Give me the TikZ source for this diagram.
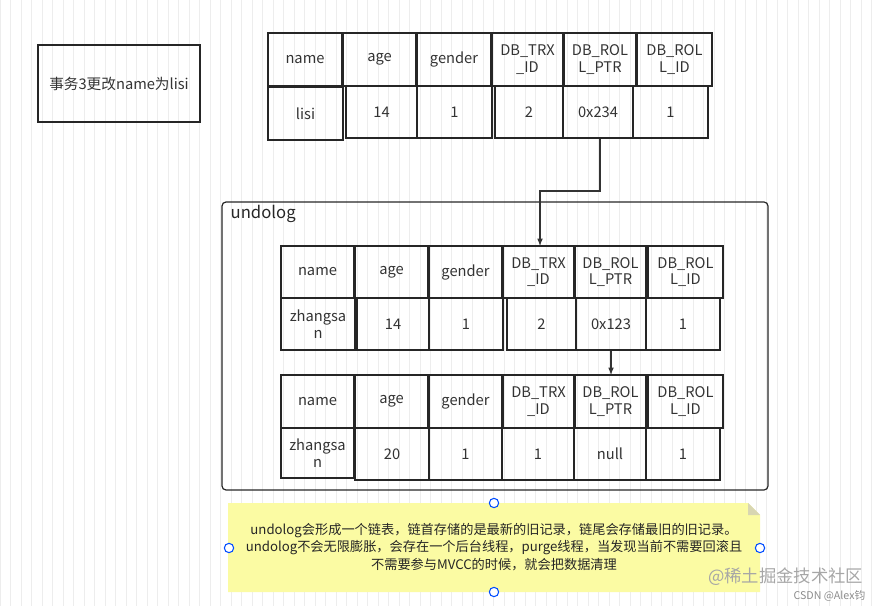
\documentclass[tikz,border=0pt]{standalone}
\usepackage{fontspec}
\newfontfamily\cjk{Noto Sans CJK SC}
\begin{document}
\begin{tikzpicture}[x=0.75pt,y=-0.75pt,
  cell/.style={draw=black!85,line width=0.9pt,font=\cjk\fontsize{11}{12.5}\selectfont,align=center,text=black!80},
  handle/.style={circle,draw=blue!70!cyan,fill=white,line width=0.8pt,inner sep=0pt,minimum size=7pt},
  link/.style={draw=black!80,line width=0.9pt,-latex}]
\useasboundingbox (0,0) rectangle (882,606);
\draw[black!7,step=10.5] (0,0) grid (882,606);
\newcommand\cellbox[6]{\node[cell,minimum width={(#3-#2)*0.75pt},minimum height={(#5-#4)*0.75pt},inner sep=0pt] (#1) at ({(#2+#3)/2},{(#4+#5)/2}) {#6};}
% left box
\cellbox{task}{38}{200}{45}{122}{事务3更改name为lisi}
% top table
\cellbox{h1}{268}{342}{33}{86}{name}
\cellbox{h2}{343}{416}{33}{86}{age}
\cellbox{h3}{417}{491}{33}{86}{gender}
\cellbox{h4}{492}{563}{33}{86}{DB\_TRX\\\_ID}
\cellbox{h5}{564}{636}{33}{86}{DB\_ROL\\L\_PTR}
\cellbox{h6}{637}{712}{33}{86}{DB\_ROL\\L\_ID}
\cellbox{d1}{268}{343}{87}{140}{lisi}
\cellbox{d2}{346}{417}{86}{138}{14}
\cellbox{d3}{417}{492}{86}{138}{1}
\cellbox{d4}{495}{563}{86}{138}{2}
\cellbox{d5}{563}{633}{86}{138}{0x234}
\cellbox{d6}{633}{708}{86}{138}{1}
% undolog container
\draw[black!85,line width=0.9pt,rounded corners=3pt] (222,202) rectangle (768,490);
\node[anchor=west,font=\cjk\fontsize{12.5}{14}\selectfont,text=black!85] (ul) at (226,214) {undolog};
% table 2
\cellbox{a1}{281}{354}{246}{298}{name}
\cellbox{a2}{355}{428}{246}{298}{age}
\cellbox{a3}{429}{502}{246}{298}{gender}
\cellbox{a4}{503}{574}{246}{298}{DB\_TRX\\\_ID}
\cellbox{a5}{575}{646}{246}{298}{DB\_ROL\\L\_PTR}
\cellbox{a6}{648}{723}{246}{298}{DB\_ROL\\L\_ID}
\cellbox{b1}{281}{355}{298}{350}{zhangsa\\n}
\cellbox{b2}{357}{429}{298}{350}{14}
\cellbox{b3}{429}{503}{298}{350}{1}
\cellbox{b4}{507}{576}{298}{350}{2}
\cellbox{b5}{576}{646}{298}{350}{0x123}
\cellbox{b6}{646}{720}{298}{350}{1}
% table 3
\cellbox{c1}{281}{354}{375}{428}{name}
\cellbox{c2}{355}{428}{375}{428}{age}
\cellbox{c3}{429}{502}{375}{428}{gender}
\cellbox{c4}{503}{574}{375}{428}{DB\_TRX\\\_ID}
\cellbox{c5}{575}{646}{375}{428}{DB\_ROL\\L\_PTR}
\cellbox{c6}{648}{723}{375}{428}{DB\_ROL\\L\_ID}
\cellbox{e1}{281}{354}{428}{478}{zhangsa\\n}
\cellbox{e2}{355}{429}{428}{480}{20}
\cellbox{e3}{429}{502}{428}{480}{1}
\cellbox{e4}{502}{574}{428}{480}{1}
\cellbox{e5}{574}{646}{428}{480}{null}
\cellbox{e6}{646}{720}{428}{480}{1}
% arrows
\coordinate (k) at (600,191);
\draw[link] (d5.south -| k) -- (k) -- (540,191) -- (540,246);
\draw[link] (b5.south -| 611,0) -- (611,375);
% note
\definecolor{notey}{HTML}{FBFBA3}
\fill[notey] (228,503) -- (748,503) -- (760,515) -- (760,592) -- (228,592) -- cycle;
\fill[yellow!50!black!35] (748,503) -- (760,515) -- (748,515) -- cycle;
\node[font=\cjk\fontsize{9.9}{13}\selectfont,align=center,text=black!85] (note) at (494,547) {undolog会形成一个链表，链首存储的是最新的旧记录，链尾会存储最旧的旧记录。\\undolog不会无限膨胀，会存在一个后台线程，purge线程，当发现当前不需要回滚且\\不需要参与MVCC的时候，就会把数据清理};
\node[handle] at (494,503) {};
\node[handle] at (229,548) {};
\node[handle] at (760,548) {};
\node[handle] at (494,592) {};
\node[font=\cjk\fontsize{13}{14}\selectfont,text=black!35,anchor=east] (wm) at (868,577) {@稀土掘金技术社区};
\node[font=\cjk\fontsize{8}{9}\selectfont,text=black!45,anchor=east] (wm2) at (870,596) {CSDN @Alex钧};
\end{tikzpicture}
\end{document}
